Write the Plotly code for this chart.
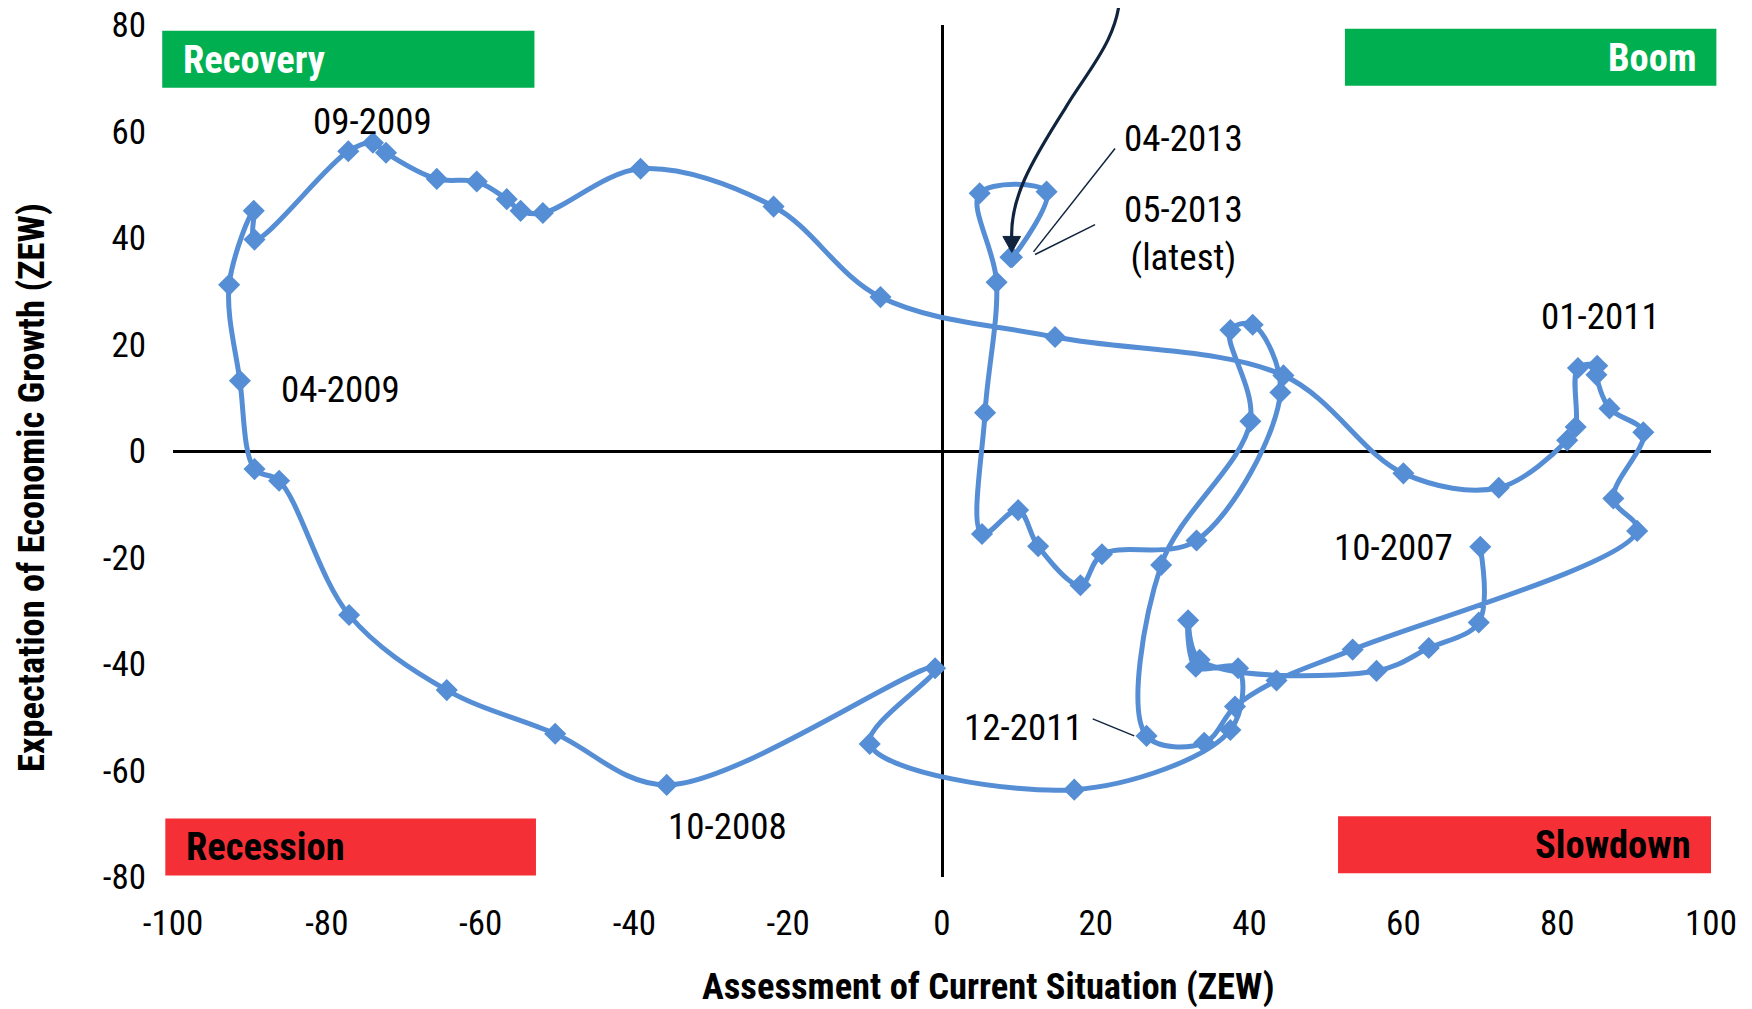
import plotly.graph_objects as go

# ---------------- data ----------------
months = ["10-2007", "11-2007", "12-2007",
          "01-2008", "02-2008", "03-2008", "04-2008", "05-2008", "06-2008",
          "07-2008", "08-2008", "09-2008", "10-2008", "11-2008", "12-2008",
          "01-2009", "02-2009", "03-2009", "04-2009", "05-2009", "06-2009",
          "07-2009", "08-2009", "09-2009", "10-2009", "11-2009", "12-2009",
          "01-2010", "02-2010", "03-2010", "04-2010", "05-2010", "06-2010",
          "07-2010", "08-2010", "09-2010", "10-2010", "11-2010", "12-2010",
          "01-2011", "02-2011", "03-2011", "04-2011", "05-2011", "06-2011",
          "07-2011", "08-2011", "09-2011", "10-2011", "11-2011", "12-2011",
          "01-2012", "02-2012", "03-2012", "04-2012", "05-2012", "06-2012",
          "07-2012", "08-2012", "09-2012", "10-2012", "11-2012", "12-2012",
          "01-2013", "02-2013", "03-2013", "04-2013", "05-2013"]

current_situation = [70.0, 69.8, 63.3,
                     56.5, 33.5, 32.0, 33.0, 38.5, 37.5,
                     17.2, -9.4, -0.9, -35.8, -50.3, -64.4,
                     -77.1, -86.2, -89.4, -91.3, -92.7, -89.5,
                     -89.4, -77.2, -74.0, -72.3, -65.7, -60.5,
                     -56.6, -54.8, -51.9, -39.2, -21.9, -8.0,
                     14.7, 44.4, 60.0, 72.4, 81.3, 82.4,
                     82.7, 85.2, 85.1, 86.8, 91.2, 87.3,
                     90.4, 53.4, 43.5, 38.1, 34.1, 26.6,
                     28.5, 40.1, 37.5, 40.4, 44.0, 33.1,
                     20.8, 18.0, 12.5, 9.9, 5.2, 5.6,
                     7.1, 4.9, 13.6, 9.1, 8.9]

expectations = [-18.0, -32.2, -37.0,
                -41.3, -39.2, -31.8, -40.5, -40.8, -52.4,
                -63.6, -55.0, -40.8, -62.7, -53.1, -44.9,
                -30.8, -5.6, -3.4, 13.2, 31.2, 45.1,
                39.7, 56.3, 57.9, 56.0, 51.1, 50.6,
                47.3, 45.1, 44.7, 53.0, 45.9, 28.9,
                21.4, 14.2, -4.2, -6.9, 2.0, 4.5,
                15.6, 16.0, 14.3, 8.0, 3.5, -8.9,
                -15.0, -37.3, -43.1, -48.0, -54.8, -53.5,
                -21.4, 5.6, 22.7, 23.7, 11.0, -16.8,
                -19.4, -25.2, -17.9, -11.1, -15.6, 7.2,
                31.7, 48.4, 48.7, 36.4, 36.4]

x_ticks = [-100, -80, -60, -40, -20, 0, 20, 40, 60, 80, 100]
y_ticks = [-80, -60, -40, -20, 0, 20, 40, 60, 80]

# point labels: (text, x, y)
point_labels = [("09-2009", -74.0, 61.8),
                ("04-2009", -78.2, 11.5),
                ("10-2008", -27.9, -70.5),
                ("12-2011", 10.6, -52.0),
                ("10-2007", 58.7, -18.2),
                ("01-2011", 85.6, 25.2),
                ("04-2013", 31.4, 58.7),
                ("05-2013<br>(latest)", 31.4, 40.9)]

# quadrant boxes: (text, x0, x1, y0, y1, fill, text colour, align)
quadrants = [("Recovery", -101.4, -53.0, 68.2, 78.9, "#00B050", "white", "left"),
             ("Boom", 52.4, 100.7, 68.6, 79.3, "#00B050", "white", "right"),
             ("Recession", -101.0, -52.8, -79.7, -69.0, "#F52F36", "black", "left"),
             ("Slowdown", 51.5, 100.0, -79.3, -68.6, "#F52F36", "black", "right")]

XR = (-100, 100)
YR = (-80, 80)


def to_px(x):
    return (x - XR[0]) / (XR[1] - XR[0])


def to_py(y):
    return (y - YR[0]) / (YR[1] - YR[0])


NARROW = ("Roboto Condensed, DejaVu Sans Condensed, Liberation Sans Narrow, "
          "Arial Narrow, Liberation Sans, Arial, sans-serif")
BLUE = "#558ED5"
NAVY = "#10243E"

fig = go.Figure()
fig.add_trace(go.Scatter(
    x=current_situation, y=expectations, text=months,
    mode="lines+markers",
    line=dict(color=BLUE, width=5, shape="spline", smoothing=1.0),
    marker=dict(symbol="diamond", size=17, color=BLUE),
    hovertemplate="%{text}<br>Current: %{x}<br>Expectations: %{y}<extra></extra>",
    showlegend=False,
))

shapes = []
annotations = []

# quadrant boxes
for txt, x0, x1, y0, y1, fill, tcol, align in quadrants:
    shapes.append(dict(type="rect", xref="paper", yref="paper",
                       x0=to_px(x0), x1=to_px(x1), y0=to_py(y0), y1=to_py(y1),
                       fillcolor=fill, line=dict(width=0), layer="below"))
    pad = 2.4
    annotations.append(dict(
        text="<b>%s</b>" % txt, xref="paper", yref="paper",
        x=to_px(x0 + pad) if align == "left" else to_px(x1 - pad),
        xanchor=align, y=to_py((y0 + y1) / 2), yanchor="middle",
        showarrow=False, font=dict(family=NARROW, size=38.5, color=tcol)))

# point labels
for txt, x, y in point_labels:
    annotations.append(dict(text=txt, x=x, y=y, xref="x", yref="y",
                            showarrow=False, font=dict(family=NARROW, size=37, color="black"),
                            align="center"))

# leader lines
for (xa, ya, xb, yb) in [(22.5, 56.8, 11.9, 37.4), (19.9, 42.5, 12.1, 36.9), (19.6, -50.3, 25.0, -53.5)]:
    shapes.append(dict(type="line", xref="x", yref="y", x0=xa, y0=ya, x1=xb, y1=yb,
                       line=dict(color=NAVY, width=1.5)))

# curved arrow (paper coords so it can leave the plot area)
pts = [(23.16, 86.5), (23.16, 77.4), (18.6, 70.85), (16.0, 64.3),
       (11.45, 53.96), (8.85, 47.4), (9.07, 39.9)]
p = ["%.5f,%.5f" % (to_px(a), to_py(b)) for a, b in pts]
shapes.append(dict(type="path", xref="paper", yref="paper",
                   path="M %s C %s %s %s C %s %s %s" % tuple(p),
                   line=dict(color=NAVY, width=3.2)))
tip = (9.07, 37.3)
shapes.append(dict(type="path", xref="paper", yref="paper",
                   path="M %.5f,%.5f L %.5f,%.5f L %.5f,%.5f Z" % (
                       to_px(tip[0] - 1.15), to_py(40.3), to_px(tip[0] + 1.15), to_py(40.3),
                       to_px(tip[0]), to_py(tip[1])),
                   fillcolor=NAVY, line=dict(color=NAVY, width=1)))

# axis titles
annotations.append(dict(text="<b>Assessment of Current Situation (ZEW)</b>",
                        xref="paper", yref="paper", x=to_px(6.0), y=-0.128,
                        xanchor="center", yanchor="middle", showarrow=False,
                        font=dict(family=NARROW, size=36.5, color="black")))
annotations.append(dict(text="<b>Expectation of Economic Growth (ZEW)</b>",
                        xref="paper", yref="paper", x=-0.0925, y=to_py(-6.8),
                        xanchor="center", yanchor="middle", showarrow=False, textangle=-90,
                        font=dict(family=NARROW, size=36.5, color="black")))

# page body has an 8px offset, so margins are shifted by 8px
fig.update_layout(
    width=1752, height=1009,
    margin=dict(l=165, r=49, t=17, b=140, autoexpand=False),
    paper_bgcolor="white", plot_bgcolor="white",
    shapes=shapes, annotations=annotations,
    xaxis=dict(range=list(XR), tickvals=x_ticks, ticktext=[str(v) for v in x_ticks],
               showgrid=False, zeroline=True, zerolinecolor="black", zerolinewidth=3,
               showline=False, ticks="", ticklabelstandoff=22, automargin=False,
               ticklabeloverflow="allow",
               tickfont=dict(family=NARROW, size=35, color="black")),
    yaxis=dict(range=list(YR), tickvals=y_ticks, ticktext=[str(v) for v in y_ticks],
               showgrid=False, zeroline=True, zerolinecolor="black", zerolinewidth=3,
               showline=False, ticks="", ticklabelstandoff=26, automargin=False,
               ticklabeloverflow="allow",
               tickfont=dict(family=NARROW, size=35, color="black")),
)

fig.write_html("out.html")
